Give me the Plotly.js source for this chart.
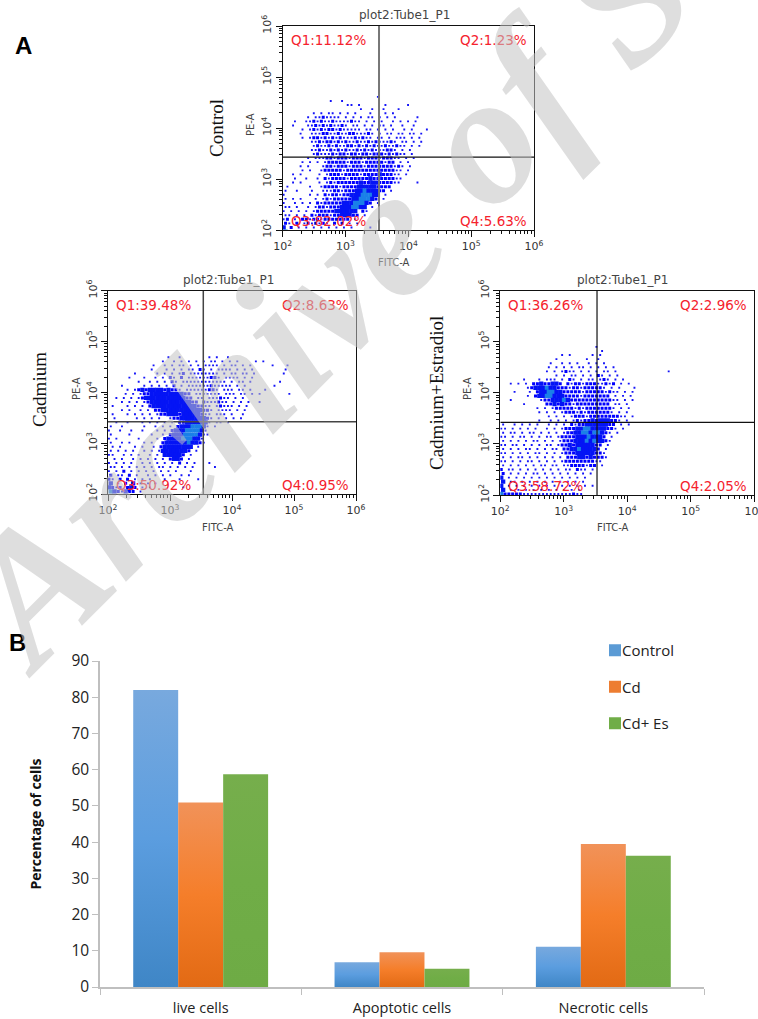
<!DOCTYPE html>
<html><head><meta charset="utf-8">
<script src="https://cdn.plot.ly/plotly-3.0.1.min.js"></script>
<style>html,body{margin:0;padding:0;background:#fff}#g{width:758px;height:1019px}</style>
</head><body><div id="g"></div>
<script>
// Panel B
const groups = ["live cells","Apoptotic cells","Necrotic cells"];
const control = [82.02,6.86,11.12];
const cd = [50.92,9.58,39.48];
const cdEs = [58.72,5.01,36.26];
// Panel A quadrant labels
const qControl = ["Q1:11.12%","Q2:1.23%","Q3:82.02%","Q4:5.63%"];
const qCadmium = ["Q1:39.48%","Q2:8.63%","Q3:50.92%","Q4:0.95%"];
const qEstradiol = ["Q1:36.26%","Q2:2.96%","Q3:58.72%","Q4:2.05%"];
const logTicks = [100,1000,10000,100000,1000000];
const logLabels = ["10<sup>2</sup>","10<sup>3</sup>","10<sup>4</sup>","10<sup>5</sup>","10<sup>6</sup>"];
// Dot density (top row first); '.' none, 1 sparse ... 4 densest
const densityControl = [
".........................1",
"............1..1",
".................11.1......1.....1",
"....................1..1..1...1",
"........1.1.11.1.1.1...1...1.1",
"......1.1121111.1.1.1.11.1.1.1.....1",
"...1..112121121111211.1.1.1..1.1.1.1",
"..1...11212121121.11.1.1.11.1..1..1",
".....1.12121221211111.11.1.1.1..1.1...1",
"....1..11122112112211121.1.11.11.11.1",
".....1.12212121211121211.11.1.111.1.1",
".......11212212121121121211121.11.1.1",
"........1211212112212121211211211.1.1",
".......11211212121121212111221.1.1",
"........1211121221221221222121211.1",
"......1.11122122212221222122211.1.1",
".....1.1.1.1222221222122222122.1.1",
"....1.1...1221222122212222222121.1",
".....1.1..1222221222222222222211.1",
"..1.1....1.12221222212222322211.1",
"...1..1..1.212222122222322222211",
"..1.1....1.12122222232233222211....1",
".1.....1..1222212222333332222",
"1..1...1..11122122233433322.1",
"1......1.1.212212233344433.1",
"1.1.1...1.121222223344432.1",
"1..1.1.1.212222233344432.1",
"11.1..1.12212223334433.1",
"1.1.1.1.122222333333.21",
"11.1.1.2122212233322.1",
"12.1.2212212222222.1",
"21.2.1212121.2.2.1.1",
"3.2.1.1.1.1.1.1.1.1....1",
"412.121.1.1.1.1.1.....1...1"];
const densityCadmium = [
"................1..1.......1.1..1",
"..............1..1.1.1.1.1.11.1.1.1....1.1",
"............1..1.1.11.1.1.1111.1.11.1.1.....1...1",
"...........1...1.1.1.11.21.1.1111.1.1.1........1",
".......1.....1.1.1.12.11111111.1.11.11.1.......1",
".....1...1..1.1.21.2.111111221.1111.1.1",
"........1..1.1.1.21.111111111111.1.11.1.......1",
"...1.....1.1.1.1.2.1.111111211111.1.1.......1",
".....1.1232333323221.111111221.111.11.1...1",
"....1.1.12233333333322.1111111.111.11.1.1.......1",
"..1.1.1.123333333333322.11.111211.1.1",
"...1.1.1.123333333333322.2111211.1.1.1..1",
".1...1.1.1.23333333333332211.12111.1.1",
"...1.1..1.1.2233333333333221.1111.1.1",
".1...1.1.1.1.122333233333211.111.1..1",
".1.....1.1.1.1..122333333321.1.1.1.1",
"..1..1...1.1.1.1.1.223333331.11.1",
"1..1.....1..1.1.1.233344431.1",
"1..1..1..1...1.1.2333444431",
"1....1.....1..1.23334444311",
"1.1.....1....1.23333444331",
"1..1.1...1.1..233333343321",
".1.1...1.1..1.233333333.1",
"1.1.1.1..1.1.133333332.1",
"11..1.1.1..1.1.333332.1",
".1.1..1.1.1.1.1.2332.1",
"1.1.1.1..1.1.1.1.1.2.1.1...1",
"11.1.1.1.1.1.11.1.1.1.1.....1",
"1.1.2.1.1.1.1.1.1.1...1",
"2.11.2.1..1.1.1.1..1.1",
"21.2.2.1.1.1...1...1....1",
"3.1.2.3.1.1.1",
"3212.232.1.1........1",
"4321322.1"];
const densityEstradiol = [
".........................1",
"..........................1",
"................1.1.....1.1",
"..............1.......1..1",
".............1..1.1.1..1.1.1",
"............1.1.1.1.11.1.1.1.1",
"............1.1.1211.1.1.1.11.1.............1",
"..............1.1.11.1.1.21.1.1",
"......1...1.111.1.21.1.11.121.1.1",
"..1.1.1.22322332.2122122211212.1.1",
".......123334332221221222221.1.1...1",
"...1...1.2334433222221222221211.1.1",
".......1.23344333222212222222.1.1.1",
"..1.......122333432222222222211.1.1",
"......1.....22323221222222222.11.1",
".........1.1.12222212122222221.1.1",
"..........1.1.1.12221212222221.1.1",
"............1.1.1.122212222222211.1",
"..........1..1.1.1.1212232333221.1",
"1..1.1.1.1..1.1.1.212233333322.1.1",
"11.1.1.1.1..1.1.122233443333221.1",
"1.11.1.11.1.1.1.1223344344321.1",
"11.1.11.1.1.11.1222233343332.1",
"1.1.1.1.11.1.1.12223334343321",
"11.11.1.1.1.11.122323333322.1",
"1.1.1.11.1.1.11.2233433332.1",
"11.1.1.1.11.1.1.122233333221",
"1.1.11.1.1.1.1.1.22233232221",
"11.1.1.11.1.1.1.12222222211",
"1.1.1.1.1.11.11.112222122.1",
"2.11.1.1.1.1.1.1.11.211.1",
"2.1.1.1.11.1.1.1.1.1.1.1",
"3.1.1.1.1.1.1.1.1.1.1.1",
"3.11.1.1.1.1.1.1.1.1.1",
"3.1.1.1.1.1.1.1.1.1.1.1.1",
"3.1.1.1.1.1.1.1.1.1.1",
"4222221111111111111211"];

const W=758,H=1019;
const px=v=>v/W, py=v=>1-v/H;
const sizes={1:1.9,2:3,3:4.3,4:4.3};
const colors={1:"#1414f8",2:"#0000ff",3:"#0414f5",4:"#1a80e8"};
function dots(grid,yTop,xa,ya){
  const x=[],y=[],s=[],c=[];
  grid.forEach((row,r)=>{[...row].forEach((ch,k)=>{
    if(ch==='.')return;
    x.push(Math.pow(10,2+0.06*(k+0.5+(r%2?0.25:-0.25))));
    y.push(Math.pow(10,yTop-0.08*(r+0.5)));
    s.push(sizes[ch]);c.push(colors[ch]);
  });});
  return {type:'scatter',mode:'markers',x,y,xaxis:xa,yaxis:ya,showlegend:false,hoverinfo:'skip',
    marker:{symbol:'square',size:s,color:c,opacity:1,line:{width:0}}};
}
const minorVals=[];
for(let e=2;e<6;e++)for(let m=2;m<10;m++)minorVals.push(m*Math.pow(10,e));
function logAxis(domain,anchor,isY){
  return {type:'log',range:[2,6],domain,anchor,showgrid:false,zeroline:false,showline:true,mirror:true,
    linecolor:'#111',linewidth:1,ticks:'outside',ticklen:6,tickcolor:'#111',tickmode:'array',tickvals:logTicks,ticktext:logLabels,ticklabeloverflow:'allow',
    tickangle:isY?-90:0,tickfont:{family:'DejaVu Sans',size:11,color:'#333'},
    minor:{ticks:'outside',ticklen:3,tickcolor:'#111',tickmode:'array',tickvals:minorVals,showgrid:false}};
}
const panels=[
 {g:densityControl,top:4.65,q:qControl,box:[282.7,534,26,230],vx:3.533,hy:3.43,vc:'#777',vw:2,hc:'#111',hw:1.2,tx:404,ty:15,side:"Control",sx:217,sy:128,fx:394,fy:263,ex:250,ey:125},
 {g:densityCadmium,top:4.73,q:qCadmium,box:[108,356,290.7,494],vx:3.537,hy:3.42,vc:'#444',vw:1.5,hc:'#444',hw:1.5,tx:228,ty:280,side:"Cadmium",sx:39,sy:390,fx:218,fy:527,ex:76,ey:389},
 {g:densityEstradiol,top:4.94,q:qEstradiol,box:[500.3,754,290.7,495],vx:3.525,hy:3.42,vc:'#111',vw:1.2,hc:'#111',hw:1.2,tx:622,ty:280,side:"Cadmium+Estradiol",sx:436,sy:393,fx:613,fy:527,ex:467,ey:389}
];
const data=[],annotations=[],shapes=[];
const layout={width:W,height:H,margin:{l:0,r:0,t:0,b:0},paper_bgcolor:'#fff',plot_bgcolor:'rgba(0,0,0,0)',showlegend:true,bargap:0.33,barmode:'group'};
const note=(txt,xp,yp,font,extra)=>annotations.push(Object.assign({xref:'paper',yref:'paper',x:px(xp),y:py(yp),text:txt,showarrow:false,xanchor:'center',yanchor:'middle',font},extra||{}));
panels.forEach((p,i)=>{
  const xn='x'+(i+2), yn='y'+(i+2);
  const [l,r,t,b]=p.box;
  layout['xaxis'+(i+2)]=logAxis([px(l),px(r)],yn,false);
  layout['yaxis'+(i+2)]=logAxis([py(b),py(t)],xn,true);
  data.push(dots(p.g,p.top,xn,yn));
  shapes.push({type:'line',xref:xn,yref:yn,x0:Math.pow(10,p.vx),x1:Math.pow(10,p.vx),y0:100,y1:1e6,line:{color:p.vc,width:p.vw}});
  shapes.push({type:'line',xref:xn,yref:yn,x0:100,x1:1e6,y0:Math.pow(10,p.hy),y1:Math.pow(10,p.hy),line:{color:p.hc,width:p.hw}});
  const qf={family:'DejaVu Sans',size:13.5,color:'#f5222d'};
  note(p.q[0],l+6,t+14,qf,{xanchor:'left'}); note(p.q[1],r-5,t+14,qf,{xanchor:'right'}); note(p.q[2],l+6,b-9,qf,{xanchor:'left'}); note(p.q[3],r-5,b-9,qf,{xanchor:'right'});
  note("plot2:Tube1_P1",p.tx,p.ty,{family:'DejaVu Sans',size:12,color:'#444'});
  note(p.side,p.sx,p.sy,{family:'Liberation Serif',size:19,color:'#111'},{textangle:-90});
  note("FITC-A",p.fx,p.fy,{family:'DejaVu Sans',size:10,color:'#444'});
  note("PE-A",p.ex,p.ey,{family:'DejaVu Sans',size:10,color:'#444'},{textangle:-90});
});
const fN="'Open Sans',sans-serif";
[["Control",control,"#5b9bd5"],["Cd",cd,"#ed7d31"],["Cd+ Es",cdEs,"#70ad47"]].forEach(([n,v,c],i)=>{
  data.push({type:'bar',name:n,x:groups,y:v,legendgroup:n,hoverinfo:'skip',marker:{color:c,line:{width:0}}});
});
layout.xaxis={domain:[px(100),px(704)],anchor:'y',type:'category',showline:true,linecolor:'#bfbfbf',linewidth:1.5,ticks:'outside',tickson:'boundaries',ticklen:6,tickcolor:'#bfbfbf',showgrid:false,zeroline:false,ticklabelstandoff:7,tickfont:{family:fN,size:14.5,color:'#222'}};
layout.yaxis={domain:[py(987),py(661)],anchor:'x',range:[0,90],dtick:10,showline:true,linecolor:'#bfbfbf',linewidth:1.5,ticks:'outside',ticklen:6,tickcolor:'#bfbfbf',showgrid:false,zeroline:false,tickfont:{family:fN,size:15.5,color:'#222'},
  title:{text:'<b>Percentage of cells</b>',font:{family:'Open Sans',size:14,color:'#111'},standoff:27}};
layout.legend={x:px(595),y:py(634),xanchor:'left',yanchor:'top',tracegroupgap:14,font:{family:fN,size:15,color:'#222'},bgcolor:'rgba(0,0,0,0)',itemclick:false};
note("<b>A</b>",23,45,{family:'Liberation Sans',size:24,color:'#000'});
note("<b>B</b>",17,642,{family:'Liberation Sans',size:24,color:'#000'});
// faint diagonal watermark over everything
note("<b><i>Archive of S</i></b>",323,297,{family:'Liberation Serif',size:185,color:'rgba(195,195,195,0.55)'},{textangle:-45});
layout.annotations=annotations;layout.shapes=shapes;
Plotly.newPlot('g',data,layout,{displayModeBar:false}).then(gd=>{
  const svg=gd.querySelector('svg.main-svg');
  const defs=document.createElementNS('http://www.w3.org/2000/svg','defs');
  const grads=[['gB','#78a9de','#5b9ddf','#3f86c6'],['gO','#f19259','#f57e2a','#e26a14'],['gG','#76ae4c','#70ad47','#6eab45']];
  grads.forEach(([id,a,b,c])=>{
    const g=document.createElementNS('http://www.w3.org/2000/svg','linearGradient');
    g.setAttribute('id',id);g.setAttribute('x1','0');g.setAttribute('y1','0');g.setAttribute('x2','0');g.setAttribute('y2','1');
    [[0,a],[.5,b],[1,c]].forEach(([o,col])=>{const s=document.createElementNS('http://www.w3.org/2000/svg','stop');s.setAttribute('offset',o);s.setAttribute('stop-color',col);g.appendChild(s);});
    defs.appendChild(g);
  });
  svg.insertBefore(defs,svg.firstChild);
  gd.querySelectorAll('.barlayer .trace').forEach((t,i)=>t.querySelectorAll('path').forEach(p=>p.style.fill='url(#'+grads[i][0]+')'));
  gd.querySelectorAll('.legend .legendtext').forEach(t=>{t.setAttribute('x',+t.getAttribute('x')-13);});
});
</script></body></html>
